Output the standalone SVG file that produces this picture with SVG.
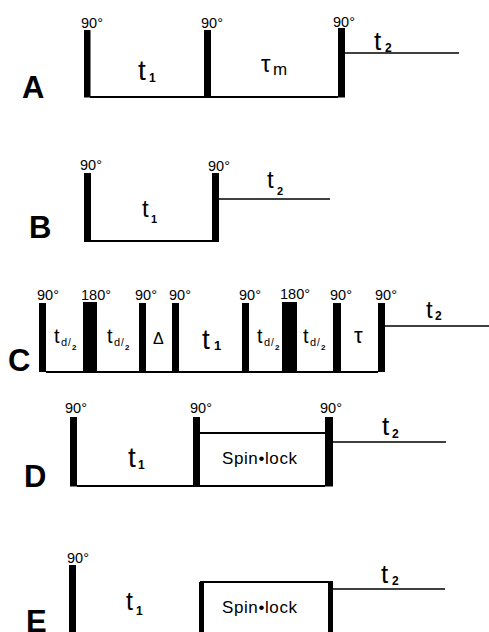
<svg xmlns="http://www.w3.org/2000/svg" width="489" height="632" viewBox="0 0 489 632">
  <style>
    .bg { fill: #fff; }
    .p { fill: #000; }
    .ln { stroke: #000; stroke-width: 2; fill: none; }
    .fid { stroke: #000; stroke-width: 1.6; fill: none; }
    .ang { font-family: "Liberation Sans", Arial, sans-serif; font-size: 14.5px; fill: #000; }
    .lab { font-family: "Liberation Sans", Arial, sans-serif; font-size: 31px; font-weight: bold; fill: #000; }
    .t { font-family: "Liberation Sans", Arial, sans-serif; fill: #000; }
    .s { font-family: "Liberation Sans", Arial, sans-serif; font-weight: bold; fill: #000; }
    .sl { font-family: "Liberation Sans", Arial, sans-serif; font-size: 17px; letter-spacing: 0.6px; fill: #000; }
  </style>
  <rect class="bg" x="0" y="0" width="489" height="632"/>

  <!-- A: NOESY-type three-pulse sequence -->
  <g id="seqA">
    <rect class="p" x="84" y="30" width="6.5" height="67.5"/>
    <rect class="p" x="204" y="30" width="7" height="67.5"/>
    <rect class="p" x="338" y="28" width="7" height="69.5"/>
    <line class="ln" x1="90" y1="97" x2="338" y2="97"/>
    <line class="fid" x1="345" y1="53" x2="459" y2="53"/>
    <text class="ang" x="81" y="28">90°</text>
    <text class="ang" x="201" y="28">90°</text>
    <text class="ang" x="333" y="27">90°</text>
    <text class="t" x="138" y="80" font-size="28">t</text>
    <text class="s" x="149" y="82" font-size="12">1</text>
    <text class="t" x="261" y="72" font-size="24">τ</text>
    <text class="t" x="273" y="75" font-size="17">m</text>
    <text class="t" x="374" y="50" font-size="26">t</text>
    <text class="s" x="385" y="52" font-size="12">2</text>
    <text class="lab" x="22" y="98">A</text>
  </g>

  <!-- B: COSY two-pulse sequence -->
  <g id="seqB">
    <rect class="p" x="84" y="173" width="7" height="69"/>
    <rect class="p" x="212" y="173" width="7" height="69"/>
    <line class="ln" x1="91" y1="241" x2="212" y2="241"/>
    <line class="fid" x1="219" y1="199" x2="330" y2="199"/>
    <text class="ang" x="80" y="170">90°</text>
    <text class="ang" x="208" y="171">90°</text>
    <text class="t" x="142" y="217" font-size="24">t</text>
    <text class="s" x="151" y="223" font-size="11">1</text>
    <text class="t" x="267" y="188" font-size="24">t</text>
    <text class="s" x="277" y="195" font-size="11">2</text>
    <text class="lab" x="29" y="238">B</text>
  </g>

  <!-- C: multiple-quantum filtered sequence -->
  <g id="seqC">
    <rect class="p" x="39" y="303" width="7" height="69"/>
    <rect class="p" x="83" y="302" width="14" height="70"/>
    <rect class="p" x="139" y="303" width="7" height="69"/>
    <rect class="p" x="172" y="303" width="7" height="69"/>
    <rect class="p" x="242" y="303" width="7" height="69"/>
    <rect class="p" x="282" y="302" width="15" height="70"/>
    <rect class="p" x="333" y="303" width="8" height="69"/>
    <rect class="p" x="378" y="303" width="7" height="69"/>
    <line class="ln" x1="46" y1="372" x2="378" y2="372"/>
    <line class="fid" x1="385" y1="326" x2="489" y2="326"/>
    <text class="ang" x="37" y="300">90°</text>
    <text class="ang" x="81" y="300">180°</text>
    <text class="ang" x="135" y="300">90°</text>
    <text class="ang" x="169" y="300">90°</text>
    <text class="ang" x="239" y="300">90°</text>
    <text class="ang" x="280" y="299">180°</text>
    <text class="ang" x="330" y="300">90°</text>
    <text class="ang" x="375" y="300">90°</text>
    <!-- td/2 delays -->
    <g id="td1">
      <text class="t" x="54" y="343" font-size="20">t</text>
      <text class="t" x="61" y="346" font-size="11">d</text>
      <text class="t" x="68" y="346" font-size="10">/</text>
      <text class="s" x="72" y="350" font-size="8">2</text>
    </g>
    <g id="td2">
      <text class="t" x="107" y="343" font-size="20">t</text>
      <text class="t" x="114" y="346" font-size="11">d</text>
      <text class="t" x="121" y="346" font-size="10">/</text>
      <text class="s" x="125" y="350" font-size="8">2</text>
    </g>
    <g id="td3">
      <text class="t" x="257" y="343" font-size="20">t</text>
      <text class="t" x="264" y="346" font-size="11">d</text>
      <text class="t" x="271" y="346" font-size="10">/</text>
      <text class="s" x="275" y="350" font-size="8">2</text>
    </g>
    <g id="td4">
      <text class="t" x="303" y="343" font-size="20">t</text>
      <text class="t" x="310" y="346" font-size="11">d</text>
      <text class="t" x="317" y="346" font-size="10">/</text>
      <text class="s" x="321" y="350" font-size="8">2</text>
    </g>
    <text class="t" x="153" y="344" font-size="16">Δ</text>
    <text class="t" x="202" y="349" font-size="28">t</text>
    <text class="s" x="214" y="350" font-size="13">1</text>
    <text class="t" x="354" y="343" font-size="22">τ</text>
    <text class="t" x="426" y="318" font-size="24">t</text>
    <text class="s" x="435" y="320" font-size="12">2</text>
    <text class="lab" x="8" y="371">C</text>
  </g>

  <!-- D: spin-lock (TOCSY) sequence -->
  <g id="seqD">
    <rect class="p" x="70" y="417" width="7" height="69.5"/>
    <rect class="p" x="193" y="417" width="7" height="69.5"/>
    <rect class="p" x="325" y="417" width="8" height="69.5"/>
    <line class="ln" x1="200" y1="433" x2="325" y2="433"/>
    <line class="fid" x1="333" y1="442" x2="446" y2="442"/>
    <line class="ln" x1="77" y1="486" x2="325" y2="486"/>
    <text class="ang" x="65" y="413">90°</text>
    <text class="ang" x="190" y="413">90°</text>
    <text class="ang" x="320" y="413">90°</text>
    <text class="t" x="128" y="467" font-size="28">t</text>
    <text class="s" x="138" y="469" font-size="12">1</text>
    <text class="sl" x="222" y="464">Spin•lock</text>
    <text class="t" x="382" y="435" font-size="26">t</text>
    <text class="s" x="392" y="438" font-size="12">2</text>
    <text class="lab" x="24" y="487">D</text>
  </g>

  <!-- E: spin-lock after evolution -->
  <g id="seqE">
    <rect class="p" x="69" y="565" width="7" height="70"/>
    <rect class="p" x="199" y="582" width="5" height="53"/>
    <rect class="p" x="328" y="581" width="5" height="54"/>
    <line class="ln" x1="200" y1="582" x2="330" y2="582"/>
    <line class="fid" x1="333" y1="589" x2="445" y2="589"/>
    <text class="ang" x="67" y="563">90°</text>
    <text class="t" x="126" y="610" font-size="25">t</text>
    <text class="s" x="136" y="615" font-size="12">1</text>
    <text class="sl" x="222" y="613">Spin•lock</text>
    <text class="t" x="381" y="583" font-size="26">t</text>
    <text class="s" x="392" y="585" font-size="12">2</text>
    <text class="lab" x="26" y="632" font-size="28">E</text>
  </g>
</svg>
